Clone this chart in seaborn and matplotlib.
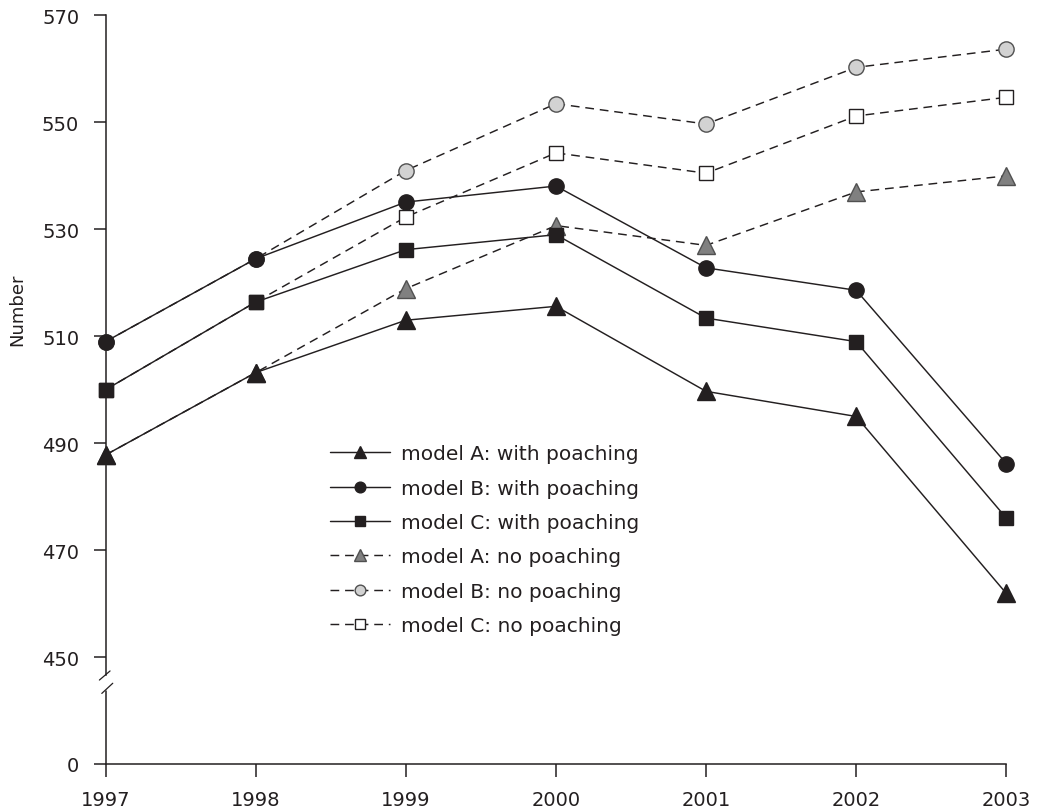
import numpy as np
import pandas as pd
import matplotlib
matplotlib.use("Agg")
import matplotlib.pyplot as plt
import seaborn as sns

years = [1997, 1998, 1999, 2000, 2001, 2002, 2003]
a_with = [487.8, 503.2, 513.0, 515.6, 499.7, 495.0, 461.9]
b_with = [509.0, 524.5, 535.1, 538.1, 522.8, 518.6, 486.2]
c_with = [500.0, 516.4, 526.2, 529.0, 513.4, 509.0, 476.0]
a_no = [487.8, 503.2, 518.9, 530.7, 527.0, 537.0, 540.0]
b_no = [509.0, 524.5, 541.0, 553.5, 549.7, 560.3, 563.7]
c_no = [500.0, 516.4, 532.3, 544.3, 540.5, 551.2, 554.7]

ytick_vals = [430, 450, 470, 490, 510, 530, 550, 570]
ytick_labels = ["0", "450", "470", "490", "510", "530", "550", "570"]

ink = "#231f20"

sns.set_style("ticks")
plt.rcParams["font.family"] = ["DejaVu Sans"]
plt.rcParams["text.color"] = ink
plt.rcParams["axes.labelcolor"] = ink
plt.rcParams["xtick.color"] = ink
plt.rcParams["ytick.color"] = ink

fig = plt.figure(figsize=(10.44, 8.12), dpi=100)
ax = fig.add_axes([0.1011, 0.0579, 0.8628, 0.9218])

series = [
    ("model A: with poaching", a_with, "-", "^", ink, ink, 13),
    ("model B: with poaching", b_with, "-", "o", ink, ink, 11),
    ("model C: with poaching", c_with, "-", "s", ink, ink, 10),
    ("model A: no poaching", a_no, (0, (6, 4)), "^", "#808080", "#505050", 13),
    ("model B: no poaching", b_no, (0, (6, 4)), "o", "#d2d2d2", "#505050", 11),
    ("model C: no poaching", c_no, (0, (6, 4)), "s", "white", ink, 10),
]

# dashed series first so solid ones sit on top
for name, vals, ls, mk, fc, ec, ms in series[::-1]:
    sns.lineplot(x=years, y=vals, ax=ax, color=ink, linestyle=ls, linewidth=1.05,
                 marker=mk, markersize=ms, markerfacecolor=fc, markeredgecolor=ec,
                 markeredgewidth=1.0, label=name, clip_on=False, zorder=3)

ax.set_xlim(1997, 2003)
ax.set_ylim(430, 570)
ax.set_xticks(years)
ax.set_xticklabels([str(y) for y in years])
ax.set_yticks(ytick_vals)
ax.set_yticklabels(ytick_labels)
ax.tick_params(axis="both", direction="out", length=9, width=1.1, labelsize=14, pad=10)

for s in ["top", "right"]:
    ax.spines[s].set_visible(False)
ax.spines["bottom"].set_linewidth(1.1)
ax.spines["bottom"].set_color(ink)
ax.spines["left"].set_linewidth(1.1)
ax.spines["left"].set_color(ink)

# broken y axis
ax.spines["left"].set_bounds(446.6, 570)
ax.plot([1997, 1997], [430, 443.6], color=ink, lw=1.1, clip_on=False, zorder=2)
ax.plot([1996.959, 1997.030], [445.7, 447.4], color=ink, lw=0.9, clip_on=False)
ax.plot([1996.975, 1997.048], [443.2, 445.1], color=ink, lw=0.9, clip_on=False)

ax.set_xlabel("")
ax.set_ylabel("Number", fontsize=13)
ax.yaxis.set_label_coords(-0.088, 0.608)

handles, labels = ax.get_legend_handles_labels()
order = [labels.index(s[0]) for s in series]
leg = ax.legend([handles[i] for i in order], [labels[i] for i in order],
                loc="upper left", bbox_to_anchor=(0.249, 0.427), frameon=False,
                fontsize=14.5, handlelength=3.0, handletextpad=0.55,
                labelspacing=0.76, markerscale=0.7, borderpad=0, borderaxespad=0)

fig.savefig("out.png", dpi=100)
